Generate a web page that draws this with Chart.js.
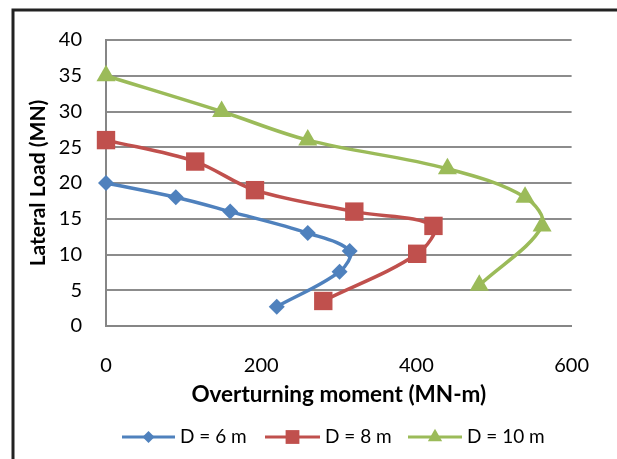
<!DOCTYPE html>
<html>
<head>
<meta charset="utf-8">
<script src="https://cdn.jsdelivr.net/npm/chart.js@4/dist/chart.umd.min.js"></script>
<style>
  html, body { margin: 0; padding: 0; background: #fff; }
  #wrap { width: 617px; height: 459px; position: relative; }
</style>
</head>
<body>
<div id="wrap"><canvas id="myChart" width="617" height="459"></canvas></div>
<script>
const seriesNames = ['D = 6 m', 'D = 8 m', 'D = 10 m'];
const moment6 = [0, 90, 160, 260, 314, 301, 220];
const load6 = [20, 18, 16, 13, 10.5, 7.6, 2.7];
const moment8 = [0, 115, 192, 320, 422, 401, 280];
const load8 = [26, 23, 19, 16, 14, 10.1, 3.5];
const moment10 = [0, 149, 260, 440, 540, 562, 481];
const load10 = [35, 30, 26, 22, 18, 14, 5.7];
const xTicks = [0, 200, 400, 600];
const yTicks = [0, 5, 10, 15, 20, 25, 30, 35, 40];

const colors = ['#4F81BD', '#C0504D', '#9BBB59'];
const shapes = ['rectRot', 'rect', 'triangle'];
const radii = [8, 13, 11];
const fontFamily = 'Lato, "Open Sans", sans-serif';

function toPoints(xs, ys) {
  return xs.map((x, i) => ({ x: x, y: ys[i] }));
}

const allData = [toPoints(moment6, load6), toPoints(moment8, load8), toPoints(moment10, load10)];

// legend drawn by hand so each key shows a line with a marker on it
const legendPlugin = {
  id: 'lineLegend',
  afterDraw(chart) {
    const c = chart.ctx;
    const y = 437;
    const items = [
      { x1: 122, x2: 175 },
      { x1: 265, x2: 320 },
      { x1: 408, x2: 462 }
    ];
    c.save();
    items.forEach((it, i) => {
      c.strokeStyle = colors[i];
      c.lineWidth = 3;
      c.beginPath();
      c.moveTo(it.x1, y);
      c.lineTo(it.x2, y);
      c.stroke();
      c.fillStyle = colors[i];
      Chart.helpers.drawPoint(c, { pointStyle: shapes[i], radius: radii[i] * 0.75, borderWidth: 0 }, (it.x1 + it.x2) / 2, y);
      c.fillStyle = '#000';
      c.font = '19px ' + fontFamily;
      c.textBaseline = 'middle';
      c.fillText(seriesNames[i], it.x2 + 5, y);
    });
    c.restore();
  },
  beforeDraw(chart) {
    const c = chart.ctx;
    c.save();
    c.strokeStyle = '#222';
    c.lineWidth = 3;
    c.beginPath();
    c.moveTo(13, 459);
    c.lineTo(13, 10);
    c.lineTo(617, 10);
    c.stroke();
    c.restore();
  }
};

const ctx = document.getElementById('myChart').getContext('2d');

new Chart(ctx, {
  type: 'scatter',
  data: {
    datasets: allData.map((d, i) => ({
      label: seriesNames[i],
      data: d,
      showLine: true,
      clip: false,
      tension: 0.35,
      borderColor: colors[i],
      backgroundColor: colors[i],
      borderWidth: 3.5,
      pointStyle: shapes[i],
      pointRadius: radii[i],
      pointBorderWidth: 0,
      pointBackgroundColor: colors[i]
    }))
  },
  options: {
    responsive: false,
    animation: false,
    layout: { padding: { top: 40, right: 41, bottom: 49, left: 0 } },
    plugins: {
      legend: { display: false },
      tooltip: { enabled: false }
    },
    scales: {
      x: {
        type: 'linear',
        min: 0,
        max: 600,
        afterBuildTicks: (scale) => { scale.ticks = xTicks.map(v => ({ value: v })); },
        afterFit: (scale) => { scale.height = 84; },
        grid: { display: false, drawTicks: false },
        border: { display: true, color: '#868686', width: 2 },
        ticks: { color: '#000', font: { size: 20, family: fontFamily }, padding: 28 },
        title: {
          display: true,
          text: 'Overturning moment (MN-m)',
          color: '#000',
          font: { size: 22.5, weight: 'bold', family: fontFamily },
          padding: { top: 0, bottom: 2 }
        }
      },
      y: {
        min: 0,
        max: 40,
        afterBuildTicks: (scale) => { scale.ticks = yTicks.map(v => ({ value: v })); },
        afterFit: (scale) => { scale.width = 106; },
        grid: { color: '#8c8c8c', lineWidth: 2, drawTicks: false },
        border: { display: true, color: '#868686', width: 2 },
        ticks: { color: '#000', font: { size: 20, family: fontFamily }, padding: 24 },
        title: {
          display: true,
          text: 'Lateral Load (MN)',
          color: '#000',
          font: { size: 21, weight: 'bold', family: fontFamily },
          padding: { top: 26, bottom: 0 }
        }
      }
    }
  },
  plugins: [legendPlugin]
});
</script>
</body>
</html>
